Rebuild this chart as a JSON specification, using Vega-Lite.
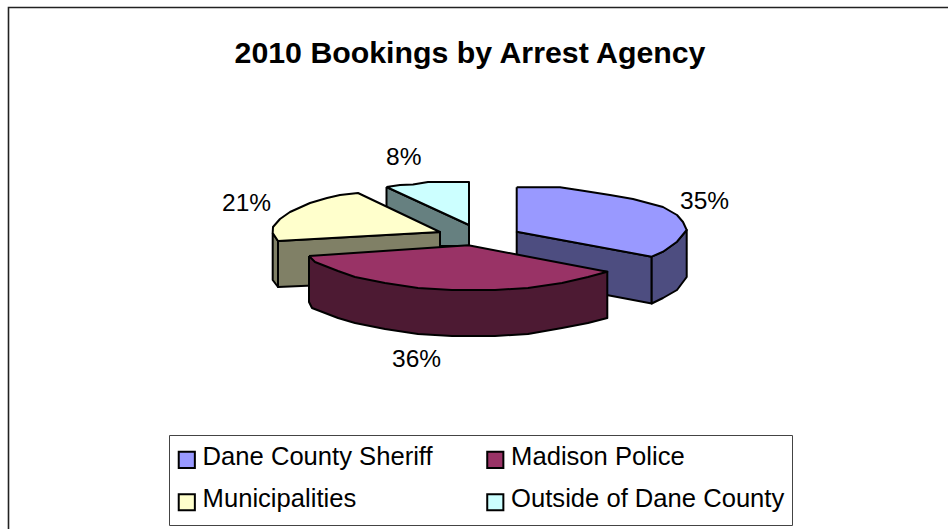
{"$schema":"https://vega.github.io/schema/vega-lite/v6.json","width":948,"height":529,"padding":0,"autosize":{"type":"none"},"background":"white","config":{"view":{"stroke":null},"font":"Liberation Sans"},
"title":{"text":"2010 Bookings by Arrest Agency","orient":"top","anchor":"middle","offset":-93,"dx":-4,"fontSize":30.3,"fontWeight":"bold","font":"Liberation Sans","color":"black","baseline":"alphabetic"},
"layer":[
{"data":{"values":[{"i":1,"x":8.5,"y":529},{"i":2,"x":8.5,"y":7.5},{"i":3,"x":948,"y":7.5}]},"mark":{"type":"line","stroke":"#222","strokeWidth":1.6,"clip":false},"encoding":{"x":{"field":"x","type":"quantitative","scale":{"domain":[0,948]},"axis":null},"y":{"field":"y","type":"quantitative","scale":{"domain":[529,0]},"axis":null},"order":{"field":"i"}}},
{"data":{"values":[{"x":169.5,"x2":792.5,"y":435.5,"y2":525.5}]},"mark":{"type":"rect","fill":"white","stroke":"#444","strokeWidth":1},"encoding":{"x":{"field":"x","type":"quantitative","scale":{"domain":[0,948]},"axis":null},"x2":{"field":"x2"},"y":{"field":"y","type":"quantitative","scale":{"domain":[529,0]},"axis":null},"y2":{"field":"y2"}}},
{"data":{"values":[
{"poly":"p1","face":"Outside of Dane County side","i":1,"x":386.5,"y":187},{"poly":"p1","face":"Outside of Dane County side","i":2,"x":469,"y":225},{"poly":"p1","face":"Outside of Dane County side","i":3,"x":469,"y":246},{"poly":"p1","face":"Outside of Dane County side","i":4,"x":386.5,"y":246},{"poly":"p1","face":"Outside of Dane County side","i":5,"x":386.5,"y":187},
{"poly":"p2","face":"Outside of Dane County","i":6,"x":386.5,"y":187},{"poly":"p2","face":"Outside of Dane County","i":7,"x":400,"y":185},{"poly":"p2","face":"Outside of Dane County","i":8,"x":413,"y":184.5},{"poly":"p2","face":"Outside of Dane County","i":9,"x":428,"y":182},{"poly":"p2","face":"Outside of Dane County","i":10,"x":469,"y":182},{"poly":"p2","face":"Outside of Dane County","i":11,"x":469,"y":225},{"poly":"p2","face":"Outside of Dane County","i":12,"x":386.5,"y":187},
{"poly":"p3","face":"Municipalities side","i":13,"x":278,"y":241},{"poly":"p3","face":"Municipalities side","i":14,"x":440,"y":232},{"poly":"p3","face":"Municipalities side","i":15,"x":440,"y":280},{"poly":"p3","face":"Municipalities side","i":16,"x":278,"y":287},{"poly":"p3","face":"Municipalities side","i":17,"x":278,"y":241},
{"poly":"p4","face":"Municipalities side","i":18,"x":272.7,"y":233},{"poly":"p4","face":"Municipalities side","i":19,"x":278,"y":241},{"poly":"p4","face":"Municipalities side","i":20,"x":278,"y":287},{"poly":"p4","face":"Municipalities side","i":21,"x":272.7,"y":280},{"poly":"p4","face":"Municipalities side","i":22,"x":272.7,"y":233},
{"poly":"p5","face":"Municipalities","i":23,"x":278,"y":241},{"poly":"p5","face":"Municipalities","i":24,"x":272.7,"y":233},{"poly":"p5","face":"Municipalities","i":25,"x":273,"y":227},{"poly":"p5","face":"Municipalities","i":26,"x":280,"y":219},{"poly":"p5","face":"Municipalities","i":27,"x":290,"y":212},{"poly":"p5","face":"Municipalities","i":28,"x":310,"y":203},{"poly":"p5","face":"Municipalities","i":29,"x":327,"y":198},{"poly":"p5","face":"Municipalities","i":30,"x":340,"y":195},{"poly":"p5","face":"Municipalities","i":31,"x":358,"y":193},{"poly":"p5","face":"Municipalities","i":32,"x":440,"y":232},{"poly":"p5","face":"Municipalities","i":33,"x":278,"y":241},
{"poly":"p6","face":"Dane County Sheriff side","i":34,"x":516.7,"y":231.7},{"poly":"p6","face":"Dane County Sheriff side","i":35,"x":651.7,"y":256.7},{"poly":"p6","face":"Dane County Sheriff side","i":36,"x":651.7,"y":303.5},{"poly":"p6","face":"Dane County Sheriff side","i":37,"x":516.7,"y":278},{"poly":"p6","face":"Dane County Sheriff side","i":38,"x":516.7,"y":231.7},
{"poly":"p7","face":"Dane County Sheriff side","i":39,"x":651.7,"y":256.7},{"poly":"p7","face":"Dane County Sheriff side","i":40,"x":663,"y":251.7},{"poly":"p7","face":"Dane County Sheriff side","i":41,"x":677,"y":241.7},{"poly":"p7","face":"Dane County Sheriff side","i":42,"x":686.7,"y":230},{"poly":"p7","face":"Dane County Sheriff side","i":43,"x":686.7,"y":277},{"poly":"p7","face":"Dane County Sheriff side","i":44,"x":677,"y":290},{"poly":"p7","face":"Dane County Sheriff side","i":45,"x":663,"y":298},{"poly":"p7","face":"Dane County Sheriff side","i":46,"x":651.7,"y":303.5},{"poly":"p7","face":"Dane County Sheriff side","i":47,"x":651.7,"y":256.7},
{"poly":"p8","face":"Dane County Sheriff","i":48,"x":516.7,"y":187.3},{"poly":"p8","face":"Dane County Sheriff","i":49,"x":560,"y":187.3},{"poly":"p8","face":"Dane County Sheriff","i":50,"x":583,"y":190.7},{"poly":"p8","face":"Dane County Sheriff","i":51,"x":610,"y":195},{"poly":"p8","face":"Dane County Sheriff","i":52,"x":633,"y":199},{"poly":"p8","face":"Dane County Sheriff","i":53,"x":663,"y":207},{"poly":"p8","face":"Dane County Sheriff","i":54,"x":677,"y":215},{"poly":"p8","face":"Dane County Sheriff","i":55,"x":683,"y":222},{"poly":"p8","face":"Dane County Sheriff","i":56,"x":686.7,"y":230},{"poly":"p8","face":"Dane County Sheriff","i":57,"x":677,"y":241.7},{"poly":"p8","face":"Dane County Sheriff","i":58,"x":663,"y":251.7},{"poly":"p8","face":"Dane County Sheriff","i":59,"x":651.7,"y":256.7},{"poly":"p8","face":"Dane County Sheriff","i":60,"x":516.7,"y":231.7},{"poly":"p8","face":"Dane County Sheriff","i":61,"x":516.7,"y":187.3},
{"poly":"p9","face":"Madison Police side","i":62,"x":309,"y":256},{"poly":"p9","face":"Madison Police side","i":63,"x":309,"y":302},{"poly":"p9","face":"Madison Police side","i":64,"x":312,"y":308},{"poly":"p9","face":"Madison Police side","i":65,"x":338,"y":318},{"poly":"p9","face":"Madison Police side","i":66,"x":355,"y":323},{"poly":"p9","face":"Madison Police side","i":67,"x":385,"y":329},{"poly":"p9","face":"Madison Police side","i":68,"x":418,"y":334},{"poly":"p9","face":"Madison Police side","i":69,"x":452,"y":336},{"poly":"p9","face":"Madison Police side","i":70,"x":495,"y":336},{"poly":"p9","face":"Madison Police side","i":71,"x":528,"y":334},{"poly":"p9","face":"Madison Police side","i":72,"x":562,"y":328},{"poly":"p9","face":"Madison Police side","i":73,"x":588,"y":323},{"poly":"p9","face":"Madison Police side","i":74,"x":607.3,"y":318},{"poly":"p9","face":"Madison Police side","i":75,"x":607.3,"y":271.7},{"poly":"p9","face":"Madison Police side","i":76,"x":309,"y":256},
{"poly":"p10","face":"Madison Police","i":77,"x":309,"y":256},{"poly":"p10","face":"Madison Police","i":78,"x":468.3,"y":245.3},{"poly":"p10","face":"Madison Police","i":79,"x":607.3,"y":271.7},{"poly":"p10","face":"Madison Police","i":80,"x":588,"y":277},{"poly":"p10","face":"Madison Police","i":81,"x":562,"y":283},{"poly":"p10","face":"Madison Police","i":82,"x":528,"y":288},{"poly":"p10","face":"Madison Police","i":83,"x":495,"y":290},{"poly":"p10","face":"Madison Police","i":84,"x":452,"y":290},{"poly":"p10","face":"Madison Police","i":85,"x":418,"y":288},{"poly":"p10","face":"Madison Police","i":86,"x":385,"y":283},{"poly":"p10","face":"Madison Police","i":87,"x":355,"y":277},{"poly":"p10","face":"Madison Police","i":88,"x":338,"y":271},{"poly":"p10","face":"Madison Police","i":89,"x":315,"y":262},{"poly":"p10","face":"Madison Police","i":90,"x":309,"y":256}
]},
"mark":{"type":"line","stroke":"black","strokeWidth":2,"strokeJoin":"round","fillOpacity":1},
"encoding":{"x":{"field":"x","type":"quantitative","scale":{"domain":[0,948]},"axis":null},"y":{"field":"y","type":"quantitative","scale":{"domain":[529,0]},"axis":null},"order":{"field":"i"},"detail":{"field":"poly"},
"fill":{"field":"face","type":"nominal","scale":{"domain":["Dane County Sheriff","Madison Police","Municipalities","Outside of Dane County","Dane County Sheriff side","Madison Police side","Municipalities side","Outside of Dane County side"],"range":["#9999FF","#993366","#FFFFCC","#CCFFFF","#4D4D80","#4D1A33","#808066","#668080"]},
"legend":{"values":["Dane County Sheriff","Madison Police","Municipalities","Outside of Dane County"],"title":null,"orient":"none","legendX":169,"legendY":435,"direction":"horizontal","columns":2,"padding":12,"symbolType":"square","symbolSize":260,"symbolStrokeColor":"black","symbolStrokeWidth":2,"symbolOffset":-7,"labelFont":"Liberation Sans","labelFontSize":25.6,"labelColor":"black","labelOffset":3,"columnPadding":49.5,"rowPadding":14.5,"labelLimit":400,"encode":{"labels":{"update":{"dy":{"value":-3}}}}}}}},
{"data":{"values":[{"agency":"Dane County Sheriff","share":35,"label":"35%","x":680,"y":209},{"agency":"Madison Police","share":36,"label":"36%","x":392,"y":367},{"agency":"Municipalities","share":21,"label":"21%","x":222,"y":211},{"agency":"Outside of Dane County","share":8,"label":"8%","x":386,"y":165}]},
"mark":{"type":"text","align":"left","baseline":"alphabetic","fontSize":24.5,"font":"Liberation Sans","color":"black"},
"encoding":{"x":{"field":"x","type":"quantitative","scale":{"domain":[0,948]},"axis":null},"y":{"field":"y","type":"quantitative","scale":{"domain":[529,0]},"axis":null},"text":{"field":"label"}}}
]}
